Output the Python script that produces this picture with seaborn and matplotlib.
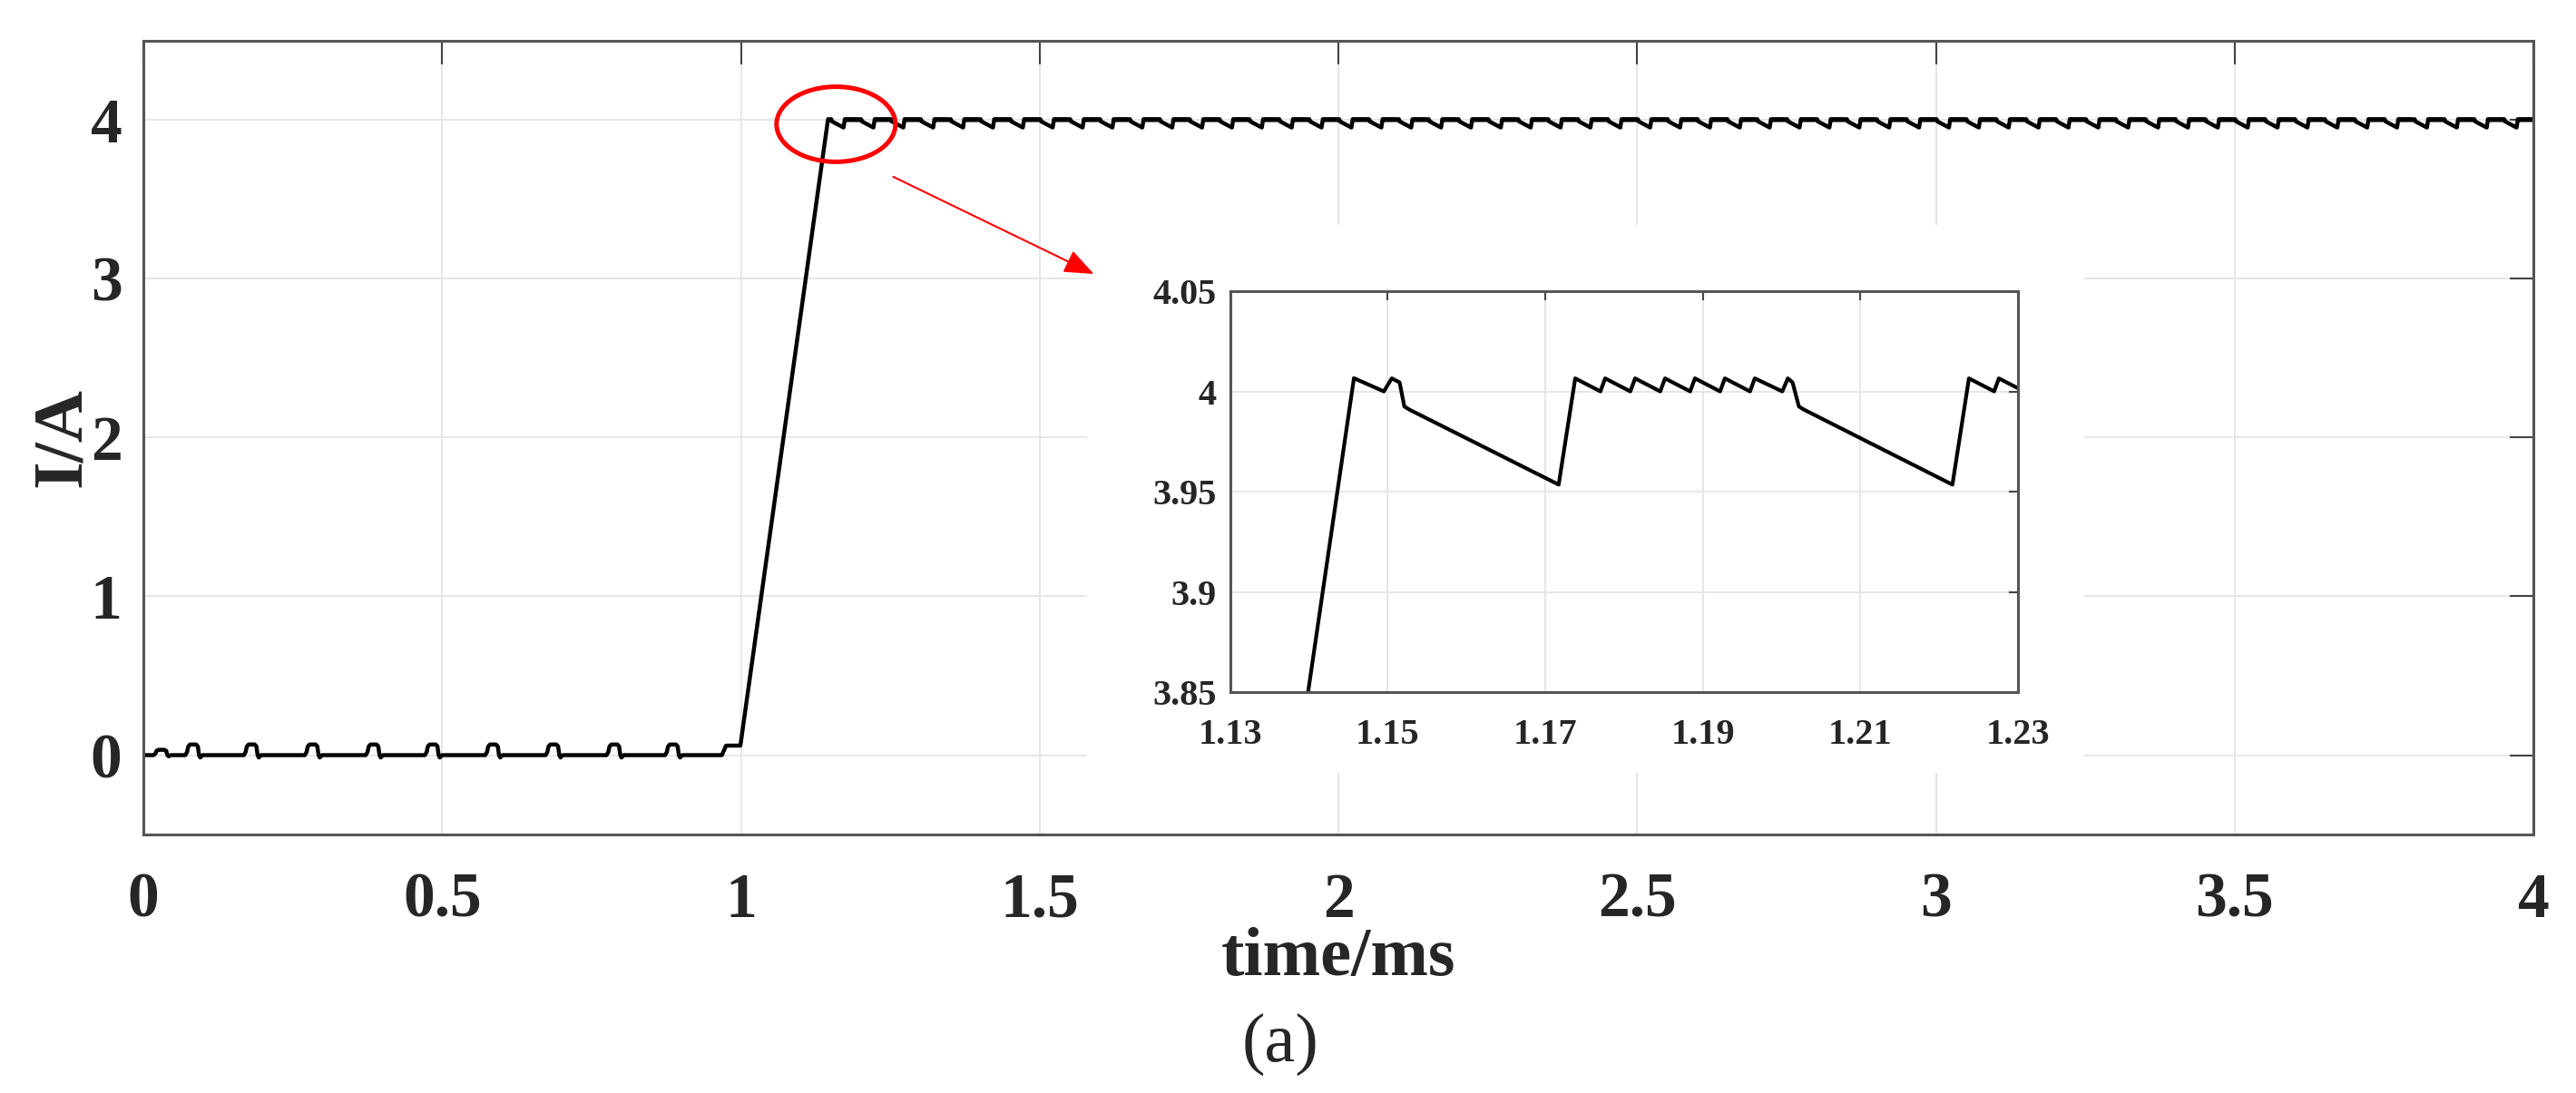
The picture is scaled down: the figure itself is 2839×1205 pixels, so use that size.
import numpy as np
import pandas as pd
import matplotlib
matplotlib.use("Agg")
import matplotlib.pyplot as plt
import seaborn as sns
from matplotlib.patches import Ellipse, Rectangle, FancyArrowPatch, ArrowStyle

# small pulses on the 0 A level before the step (ms)
pulse_t = [0.030, 0.083, 0.181, 0.283, 0.385, 0.484, 0.585, 0.686, 0.788, 0.886]
pulse_h = [0.5, 1, 1, 1, 1, 1, 1, 1, 1, 1]
pulse_dt = [-0.013, -0.010, -0.008, -0.005, 0.005, 0.008, 0.010, 0.012, 0.016]
pulse_i = [0.0, 0.02, 0.055, 0.067, 0.067, 0.055, 0.0, -0.015, 0.0]

# step up to 4 A and the first partial ripple
step_t = [0.968, 0.975, 0.999, 1.1457, 1.1495, 1.1505, 1.1515, 1.1521, 1.1527]
step_i = [0.0, 0.06, 0.06, 4.0066, 4.0, 4.0065, 4.0045, 3.9925, 3.991]

# one ripple period read from the zoomed view (starts at the valley)
ripple_start = 1.1717
ripple_period = 0.05
ripple_dt = [0.0000, 0.0021, 0.0053, 0.0059, 0.0091, 0.0097, 0.0129, 0.0135, 0.0167, 0.0173,
             0.0205, 0.0211, 0.0243, 0.0249, 0.0284, 0.0291, 0.0297, 0.0305, 0.0311]
ripple_i = [3.9535, 4.0065, 4.0000, 4.0065, 4.0000, 4.0065, 4.0000, 4.0065, 4.0000, 4.0065,
            4.0000, 4.0065, 4.0000, 4.0065, 4.0000, 4.0065, 4.0045, 3.9925, 3.9910]

main_xticks = [0, 0.5, 1, 1.5, 2, 2.5, 3, 3.5, 4]
main_xlabels = ["0", "0.5", "1", "1.5", "2", "2.5", "3", "3.5", "4"]
main_yticks = [0, 1, 2, 3, 4]
inset_xticks = [1.13, 1.15, 1.17, 1.19, 1.21, 1.23]
inset_xlabels = ["1.13", "1.15", "1.17", "1.19", "1.21", "1.23"]
inset_yticks = [3.85, 3.9, 3.95, 4.0, 4.05]
inset_ylabels = ["3.85", "3.9", "3.95", "4", "4.05"]


def build_trace():
    t, cur = [0.0], [0.0]
    for c, h in zip(pulse_t, pulse_h):
        for dt, v in zip(pulse_dt, pulse_i):
            t.append(c + dt)
            cur.append(v * h)
    t += step_t
    cur += step_i
    k = 0
    while ripple_start + k * ripple_period < 4.0:
        for dt, v in zip(ripple_dt, ripple_i):
            t.append(ripple_start + k * ripple_period + dt)
            cur.append(v)
        k += 1
    return pd.DataFrame({"time": t, "current": cur})


def style_axes(ax, spine_lw, tick_len):
    for s in ax.spines.values():
        s.set_visible(True)
        s.set_color("#555555")
        s.set_linewidth(spine_lw)
    ax.grid(True, color="#e6e6e6", lw=1.4)
    ax.set_axisbelow(True)
    ax.tick_params(direction="in", top=True, right=True, length=tick_len,
                   width=1.5, color="#444444")


sns.set_theme(style="white")
plt.rcParams["font.family"] = ["Liberation Serif", "DejaVu Serif"]

df = build_trace()

fig = plt.figure(figsize=(28.39, 12.05), dpi=100)
ax = fig.add_axes([0.0557, 0.2365, 0.9278, 0.7262])
sns.lineplot(data=df, x="time", y="current", ax=ax, color="black", lw=3.2,
             estimator=None, sort=False)
ax.set_xlim(0, 4)
ax.set_ylim(-0.5, 4.5)
style_axes(ax, 2.2, 18.5)
ax.set_xticks(main_xticks, main_xlabels, fontsize=50, fontweight="bold")
ax.set_yticks(main_yticks, [str(v) for v in main_yticks], fontsize=50, fontweight="bold")
ax.tick_params(axis="x", pad=30)
ax.tick_params(axis="y", pad=17)
ax.set_xlabel("time/ms", fontsize=55, fontweight="bold", labelpad=-3)
ax.set_ylabel("I/A", fontsize=57, fontweight="bold", labelpad=-4)

# red ellipse marking the zoomed region
ax.add_patch(Ellipse((1.159, 3.974), 0.199, 0.473, fill=False, edgecolor="red",
                     lw=3.6, clip_on=False, zorder=5))

# white backing for the inset picture
fig.add_artist(Rectangle((0.422, 0.2929), 0.3871, 0.5012, transform=fig.transFigure,
                         facecolor="white", edgecolor="none", zorder=1))

axin = fig.add_axes([0.4776, 0.3668, 0.3057, 0.3668], zorder=2)
sns.lineplot(data=df, x="time", y="current", ax=axin, color="black", lw=3.0,
             estimator=None, sort=False)
axin.set_xlim(1.13, 1.23)
axin.set_ylim(3.85, 4.05)
style_axes(axin, 2.2, 7)
axin.set_xticks(inset_xticks, inset_xlabels, fontsize=29, fontweight="bold")
axin.set_yticks(inset_yticks, inset_ylabels, fontsize=29, fontweight="bold")
axin.tick_params(axis="x", pad=21)
axin.tick_params(axis="y", pad=11)
axin.set_xlabel("")
axin.set_ylabel("")

arrow = FancyArrowPatch((1.2549, 3.643), (1.5906, 3.031), transform=ax.transData,
                        arrowstyle=ArrowStyle("-|>", head_length=1.0, head_width=0.4),
                        mutation_scale=20, color="red", lw=1.5,
                        shrinkA=0, shrinkB=0, zorder=10)
fig.add_artist(arrow)

fig.text(0.4970, 0.0445, "(a)", fontsize=55, ha="center", va="center")

fig.savefig("out.png", dpi=100, facecolor="white")
